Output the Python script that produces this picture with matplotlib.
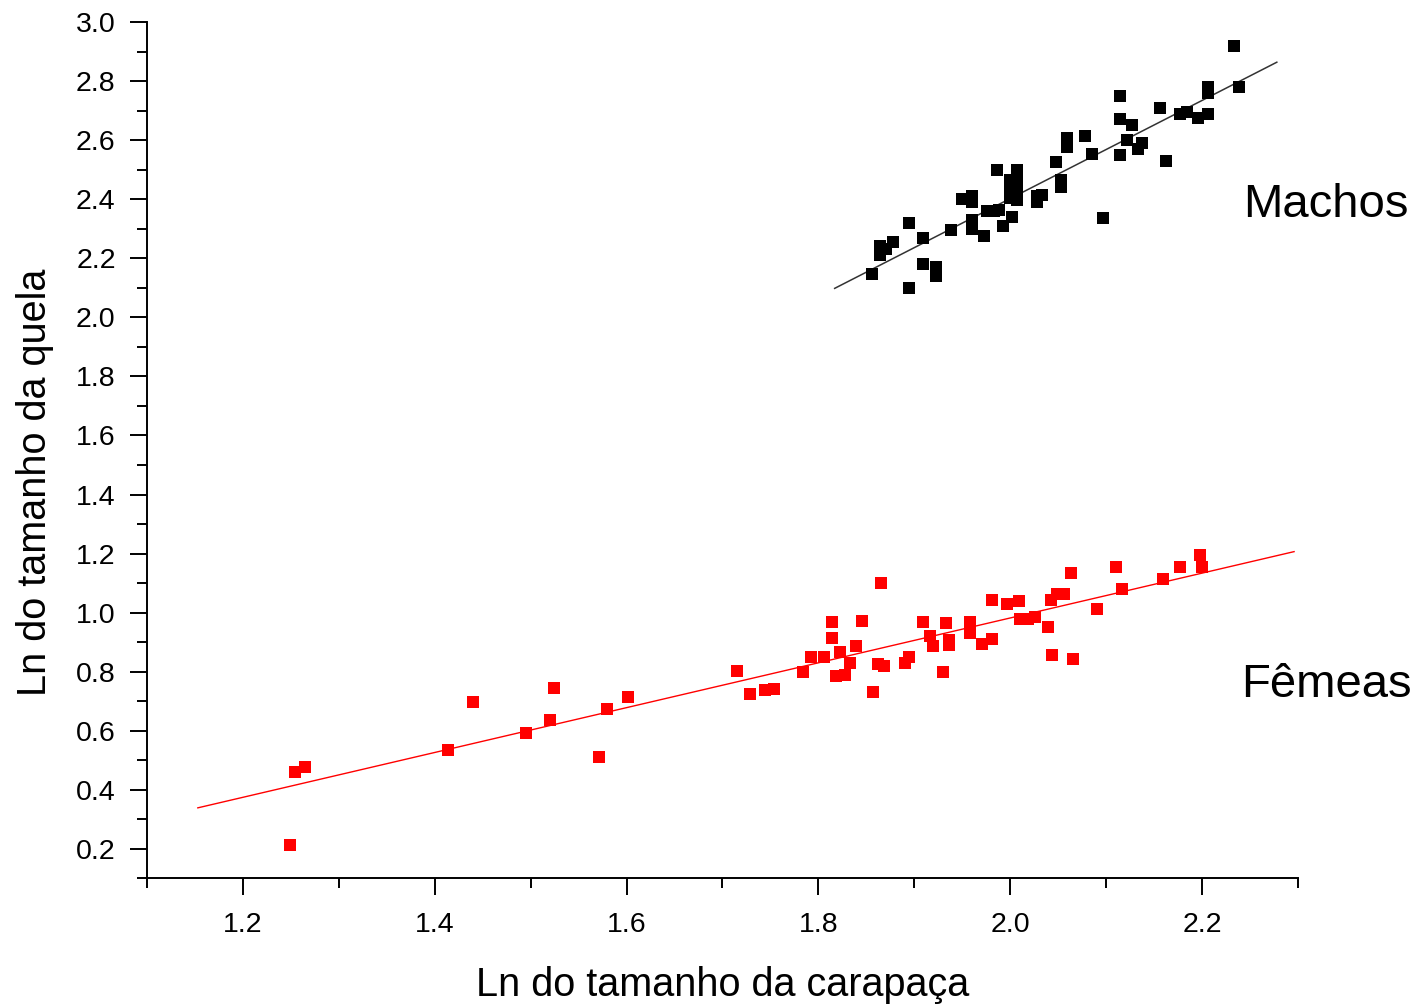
import numpy as np
import matplotlib
matplotlib.use('Agg')
import matplotlib.pyplot as plt
from matplotlib.ticker import MultipleLocator

plt.rcParams['font.family'] = ['Liberation Sans', 'DejaVu Sans']

# DATA
machos_x = [1.856, 1.864, 1.864, 1.871, 1.878, 1.894, 1.894, 1.909, 1.909, 1.923,
            1.923, 1.938, 1.950, 1.960, 1.960, 1.960, 1.960, 1.973, 1.976, 1.983,
            1.988, 1.986, 1.993, 2.000, 2.000, 2.000, 2.002, 2.007, 2.007, 2.007,
            2.007, 2.028, 2.033, 2.028, 2.048, 2.053, 2.053, 2.059, 2.059, 2.078,
            2.085, 2.097, 2.115, 2.115, 2.115, 2.122, 2.127, 2.133, 2.137, 2.156,
            2.162, 2.177, 2.184, 2.196, 2.206, 2.206, 2.206, 2.233, 2.239]
machos_y = [2.147, 2.240, 2.210, 2.230, 2.255, 2.320, 2.100, 2.270, 2.180, 2.170,
            2.140, 2.296, 2.400, 2.410, 2.390, 2.330, 2.300, 2.275, 2.360, 2.360,
            2.365, 2.500, 2.310, 2.404, 2.465, 2.430, 2.340, 2.500, 2.465, 2.430,
            2.397, 2.410, 2.415, 2.390, 2.526, 2.465, 2.440, 2.607, 2.577, 2.614,
            2.553, 2.336, 2.750, 2.670, 2.550, 2.600, 2.650, 2.570, 2.590, 2.710,
            2.530, 2.690, 2.695, 2.675, 2.690, 2.760, 2.780, 2.919, 2.780]

femeas_x = [1.249, 1.254, 1.265, 1.414, 1.440, 1.495, 1.520, 1.524, 1.571, 1.580,
            1.601, 1.715, 1.729, 1.744, 1.754, 1.784, 1.792, 1.806, 1.814, 1.814,
            1.823, 1.833, 1.818, 1.828, 1.839, 1.845, 1.865, 1.857, 1.862, 1.868,
            1.890, 1.894, 1.909, 1.916, 1.919, 1.933, 1.936, 1.936, 1.930, 1.958,
            1.958, 1.971, 1.981, 1.981, 1.997, 2.009, 2.010, 2.019, 2.026, 2.039,
            2.044, 2.043, 2.049, 2.056, 2.063, 2.065, 2.090, 2.110, 2.117, 2.159,
            2.177, 2.198, 2.200]
femeas_y = [0.214, 0.461, 0.478, 0.536, 0.698, 0.593, 0.637, 0.745, 0.512, 0.674,
            0.715, 0.804, 0.725, 0.739, 0.741, 0.799, 0.849, 0.849, 0.970, 0.914,
            0.868, 0.829, 0.784, 0.789, 0.888, 0.973, 1.100, 0.733, 0.827, 0.821,
            0.831, 0.851, 0.970, 0.921, 0.888, 0.964, 0.908, 0.891, 0.799, 0.970,
            0.931, 0.893, 0.910, 1.043, 1.030, 1.041, 0.979, 0.979, 0.985, 0.951,
            0.857, 1.043, 1.064, 1.064, 1.134, 0.844, 1.012, 1.154, 1.080, 1.114,
            1.154, 1.196, 1.154]

# fitted lines: slope, intercept, x range
machos_fit = (1.661, -0.920)
machos_range = (1.817, 2.278)
femeas_fit = (0.759, -0.536)
femeas_range = (1.153, 2.296)

fig = plt.figure(figsize=(14.23, 10.08), dpi=100)
ax = fig.add_axes([0.1033, 0.1285, 0.8088, 0.8497])

xl = np.array(machos_range)
ax.plot(xl, machos_fit[0] * xl + machos_fit[1], color='#333333', lw=1.1, zorder=2)
xl = np.array(femeas_range)
ax.plot(xl, femeas_fit[0] * xl + femeas_fit[1], color='red', lw=1.0, zorder=2)

ax.plot(machos_x, machos_y, 's', color='black', ms=8, mew=0, zorder=3)
ax.plot(femeas_x, femeas_y, 's', color='red', ms=8, mew=0, zorder=3)

ax.set_xlim(1.1, 2.3)
ax.set_ylim(0.1, 3.0)
ax.xaxis.set_major_locator(MultipleLocator(0.2))
ax.xaxis.set_minor_locator(MultipleLocator(0.1))
ax.yaxis.set_major_locator(MultipleLocator(0.2))
ax.yaxis.set_minor_locator(MultipleLocator(0.1))
ax.xaxis.set_major_formatter(lambda v, p: '%.1f' % v if v > 1.15 else '')
ax.yaxis.set_major_formatter(lambda v, p: '%.1f' % v if v > 0.15 else '')

for s in ['top', 'right']:
    ax.spines[s].set_visible(False)
for s in ['left', 'bottom']:
    ax.spines[s].set_linewidth(1.4)

ax.tick_params(which='major', direction='out', length=12.5, width=1.4,
               labelsize=20.5, colors='black')
ax.tick_params(axis='x', which='major', pad=12)
ax.tick_params(axis='y', which='major', pad=10)
ax.tick_params(which='minor', direction='out', length=7, width=1.4)

ax.set_xlabel('Ln do tamanho da carapaça', fontsize=28.5, va='center')
ax.set_ylabel('Ln do tamanho da quela', fontsize=28.5, va='center')
ax.xaxis.set_label_coords(0.5, -0.124)
ax.yaxis.set_label_coords(-0.097, 0.463)

ax.text(2.243, 2.34, 'Machos', fontsize=34, ha='left', va='baseline', clip_on=False)
ax.text(2.241, 0.715, 'Fêmeas', fontsize=34, ha='left', va='baseline', clip_on=False)

fig.savefig('out.png', dpi=100)
